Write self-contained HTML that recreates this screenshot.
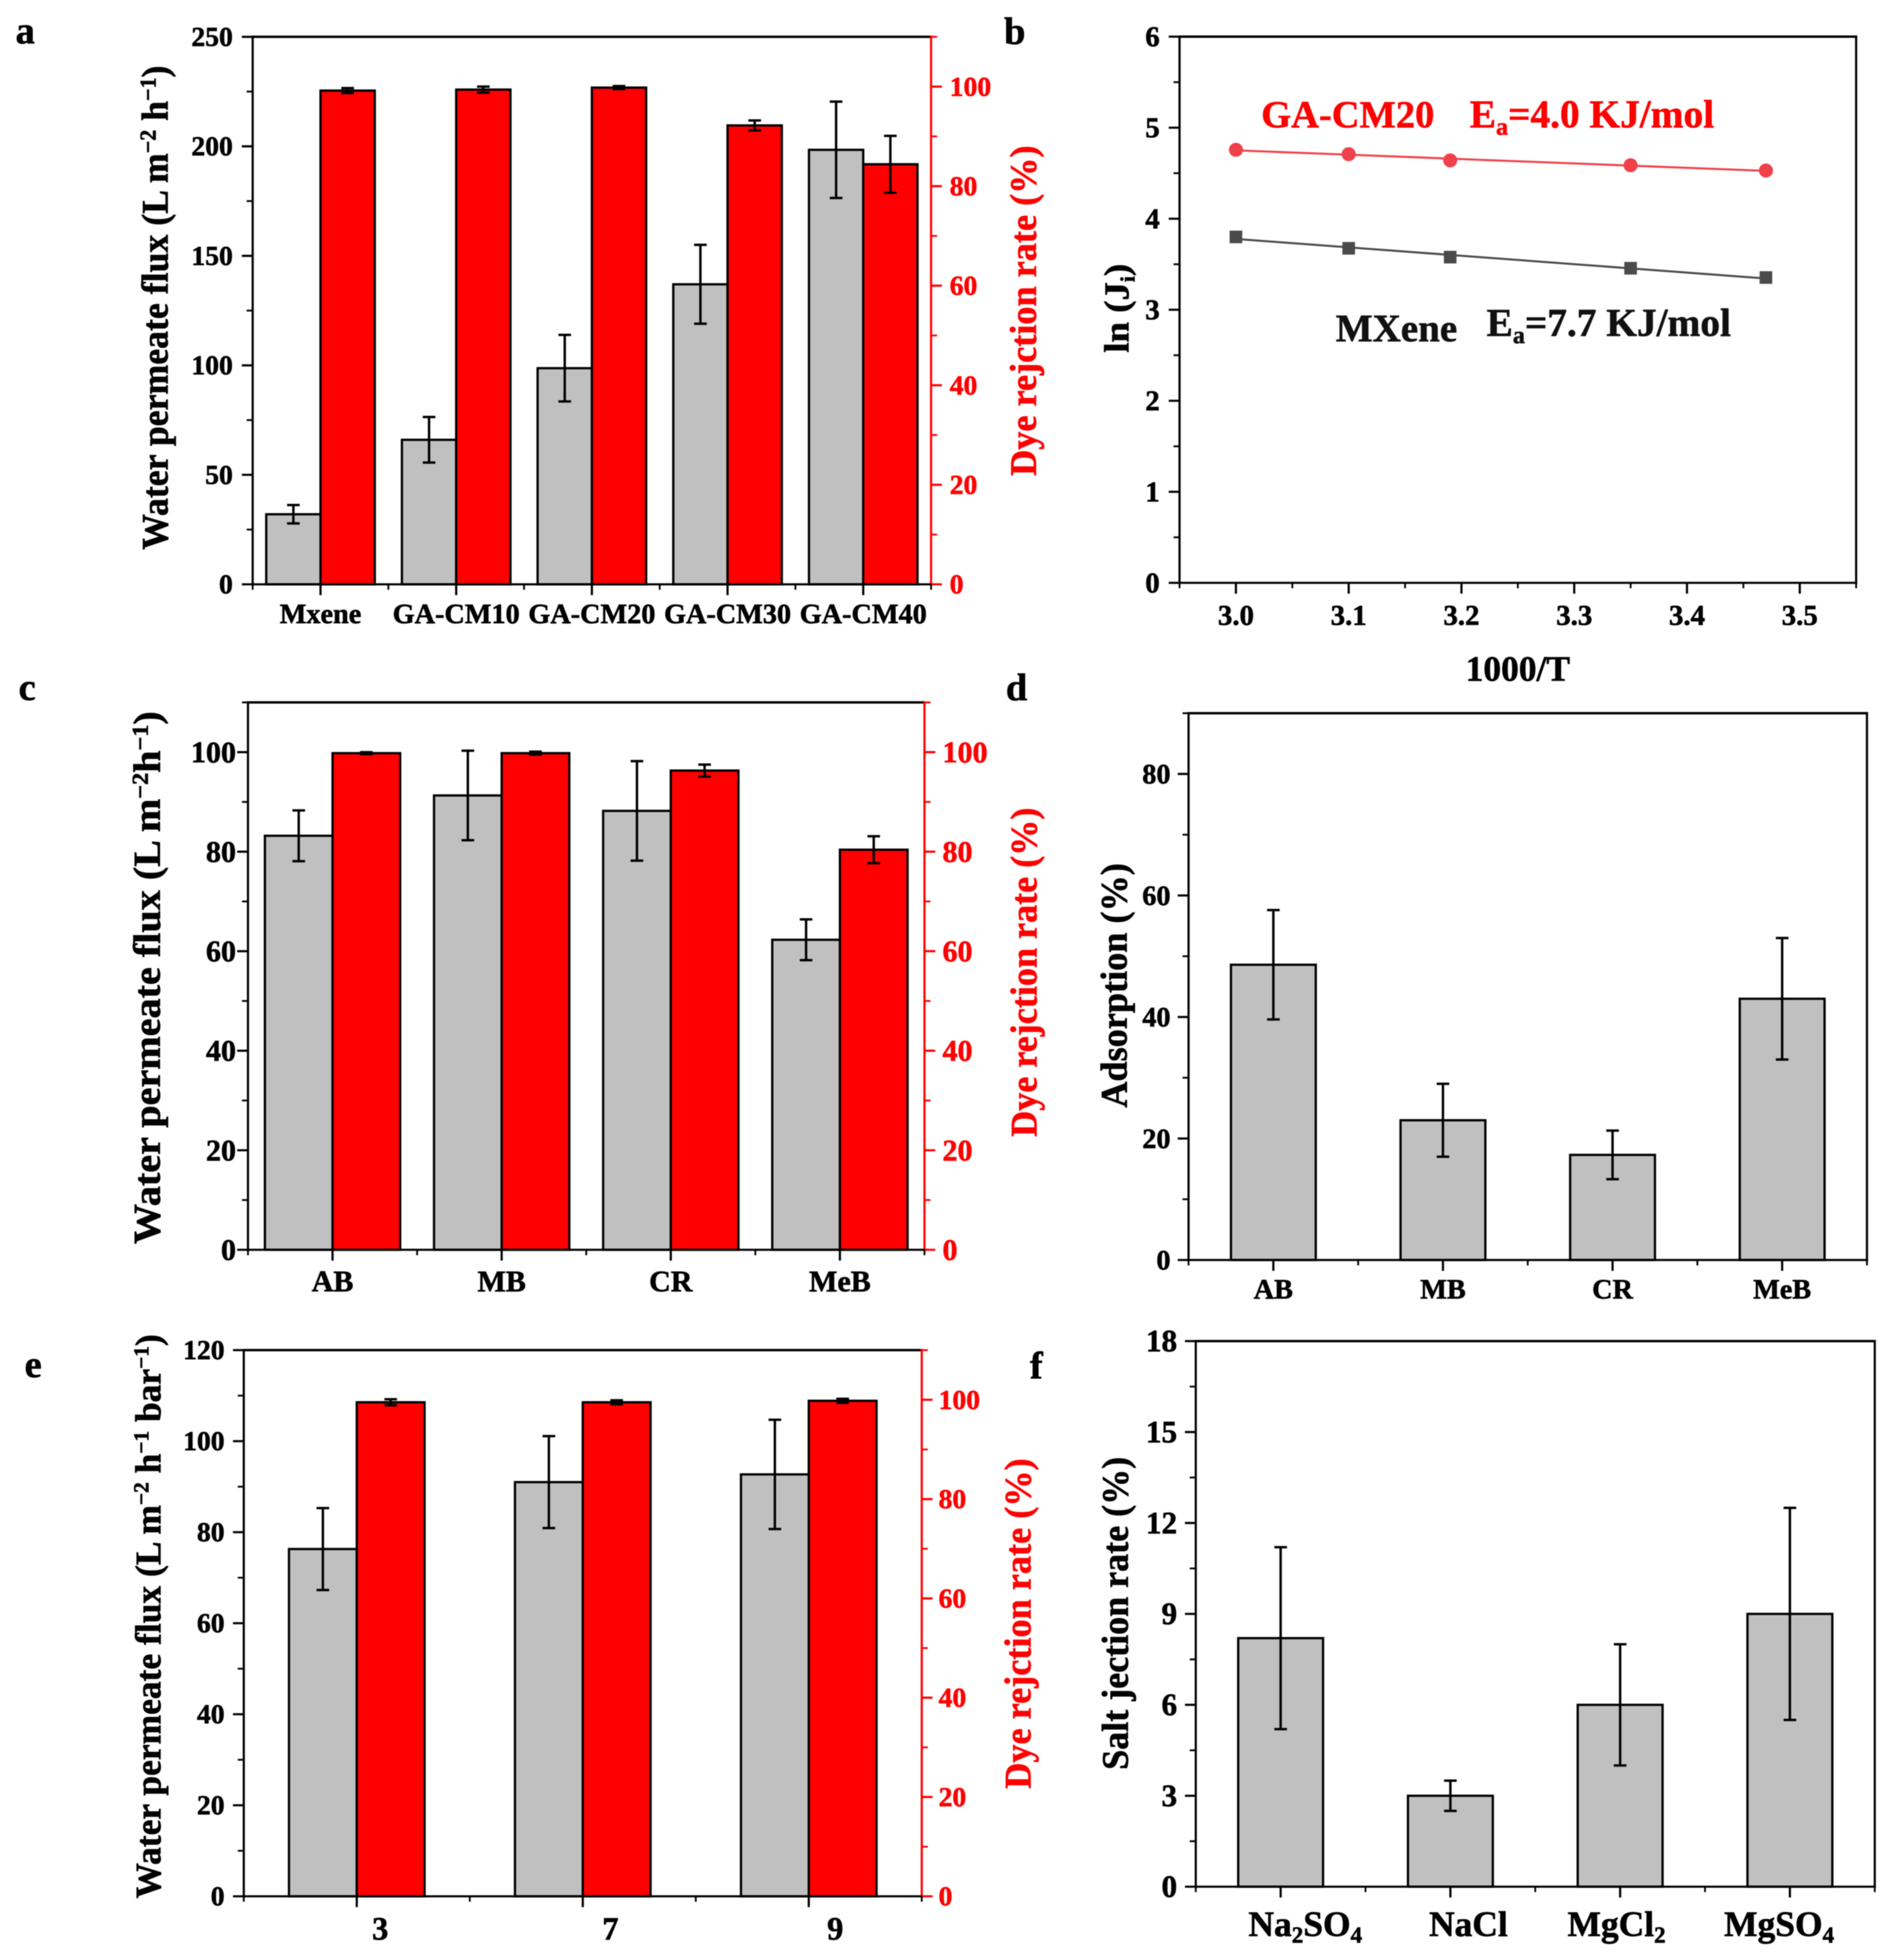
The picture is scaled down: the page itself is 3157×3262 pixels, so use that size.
<!DOCTYPE html>
<html lang="en">
<head>
<meta charset="utf-8">
<title>Membrane performance charts</title>
<style>
html,body{margin:0;padding:0;background:#fff;}
svg{display:block;filter:blur(0.8px);}
text{font-family:"Liberation Serif","DejaVu Serif",serif;font-weight:bold;}
</style>
</head>
<body>
<svg id="figure" xmlns="http://www.w3.org/2000/svg" width="3157" height="3262" viewBox="0 0 3157 3262">
<rect x="0" y="0" width="3157" height="3262" fill="#fff"/>

<g id="panel-a">
<text x="26" y="72" font-size="64">a</text>
<text class="fit" data-bx="279" data-cy="512" data-len="806" font-size="62">Water permeate flux (L m<tspan dy="-20" font-size="38">−2</tspan><tspan dy="20"> h</tspan><tspan dy="-20" font-size="38">−1</tspan><tspan dy="20">)</tspan></text>
<text class="fit" data-bx="1724" data-cy="517" data-len="550" font-size="62" fill="#ff0000">Dye rejction rate (%)</text>
</g>

<g id="panel-b">
<text x="1671" y="73" font-size="64">b</text>
<text class="fit" data-bx="1878" data-cy="513" data-len="148" font-size="58">ln (J<tspan dy="10" font-size="34">i</tspan><tspan dy="-10">)</tspan></text>
<text x="2526" y="1133" font-size="59" text-anchor="middle">1000/T</text>
<text x="2099" y="212" font-size="64" fill="#ff0000">GA-CM20</text>
<text x="2446" y="212" font-size="65.5" fill="#ff0000">E<tspan dy="12" font-size="40">a</tspan><tspan dy="-12">=4.0 KJ/mol</tspan></text>
<text x="2223" y="568" font-size="65" fill="#111">MXene</text>
<text x="2474" y="559" font-size="65.5" fill="#111">E<tspan dy="12" font-size="40">a</tspan><tspan dy="-12">=7.7 KJ/mol</tspan></text>
</g>

<g id="panel-c">
<text x="31" y="1165" font-size="64">c</text>
<text class="fit" data-bx="266" data-cy="1627" data-len="887" font-size="63">Water permeate flux (L m<tspan dy="-20" font-size="38">−2</tspan><tspan dy="20">h</tspan><tspan dy="-20" font-size="38">−1</tspan><tspan dy="20">)</tspan></text>
<text class="fit" data-bx="1725" data-cy="1618" data-len="548" font-size="62" fill="#ff0000">Dye rejction rate (%)</text>
</g>

<g id="panel-d">
<text x="1674" y="1165" font-size="64">d</text>
<text class="fit" data-bx="1875" data-cy="1640" data-len="407" font-size="62">Adsorption (%)</text>
</g>

<g id="panel-e">
<text x="41" y="2292" font-size="64">e</text>
<text class="fit" data-bx="267" data-cy="2690" data-len="939" font-size="60">Water permeate flux (L m<tspan dy="-20" font-size="36">−2</tspan><tspan dy="20"> h</tspan><tspan dy="-20" font-size="36">−1</tspan><tspan dy="20"> bar</tspan><tspan dy="-20" font-size="36">−1</tspan><tspan dy="20">)</tspan></text>
<text class="fit" data-bx="1715" data-cy="2702" data-len="550" font-size="62" fill="#ff0000">Dye rejction rate (%)</text>
</g>

<g id="panel-f">
<text x="1714" y="2294" font-size="64">f</text>
<text class="fit" data-bx="1877" data-cy="2685" data-len="521" font-size="62">Salt jection rate (%)</text>
</g>
</svg>

<script>
// ---------- Panel a data ----------
const aCategories = ['Mxene', 'GA-CM10', 'GA-CM20', 'GA-CM30', 'GA-CM40'];
const aFlux = [32, 66, 98.7, 137, 198.4];
const aFluxErr = [4.2, 10.4, 15.2, 18, 22];
const aRejection = [99.2, 99.4, 99.8, 92.2, 84.4];
const aRejectionErr = [0.5, 0.6, 0.3, 1.0, 5.7];
const aLeftTicks = [0, 50, 100, 150, 200, 250];
const aRightTicks = [0, 20, 40, 60, 80, 100];

// ---------- Panel b data ----------
const bTemps = [3.0, 3.1, 3.19, 3.35, 3.47];
const bGaCm20 = [4.757, 4.709, 4.641, 4.587, 4.529];
const bMxene = [3.80, 3.675, 3.578, 3.456, 3.354];
const bXTicks = [3.0, 3.1, 3.2, 3.3, 3.4, 3.5];
const bXTickLabels = ['3.0', '3.1', '3.2', '3.3', '3.4', '3.5'];
const bYTicks = [0, 1, 2, 3, 4, 5, 6];

// ---------- Panel c data ----------
const cCategories = ['AB', 'MB', 'CR', 'MeB'];
const cFlux = [83.2, 91.3, 88.2, 62.3];
const cFluxErr = [5.1, 9, 10, 4.1];
const cRejection = [99.8, 99.8, 96.3, 80.4];
const cRejectionErr = [0.2, 0.3, 1.2, 2.7];
const cLeftTicks = [0, 20, 40, 60, 80, 100];
const cRightTicks = [0, 20, 40, 60, 80, 100];

// ---------- Panel d data ----------
const dCategories = ['AB', 'MB', 'CR', 'MeB'];
const dAdsorption = [48.6, 23, 17.3, 43];
const dAdsorptionErr = [9, 6, 4, 10];
const dLeftTicks = [0, 20, 40, 60, 80];

// ---------- Panel e data ----------
const eCategories = ['3', '7', '9'];
const eFlux = [76.3, 91, 92.7];
const eFluxErr = [9, 10.1, 12];
const eRejection = [99.5, 99.5, 99.8];
const eRejectionErr = [0.6, 0.4, 0.4];
const eLeftTicks = [0, 20, 40, 60, 80, 100, 120];
const eRightTicks = [0, 20, 40, 60, 80, 100];

// ---------- Panel f data ----------
const fCategories = ['Na2SO4', 'NaCl', 'MgCl2', 'MgSO4'];
const fSalt = [8.2, 3, 6, 9];
const fSaltErr = [3, 0.5, 2, 3.5];
const fLeftTicks = [0, 3, 6, 9, 12, 15, 18];

// ---------- Helpers ----------
const NS = 'http://www.w3.org/2000/svg';
const AXIS_W = 3.6;
const BAR_W = 3.8;
const ERR_W = 4;
const CAP = 21;

function mk(tag, attrs, parent) {
  const el = document.createElementNS(NS, tag);
  for (const k in attrs) el.setAttribute(k, attrs[k]);
  parent.appendChild(el);
  return el;
}

function drawLine(g, x1, y1, x2, y2, color, w, name) {
  const el = mk('line', { x1: x1, y1: y1, x2: x2, y2: y2, stroke: color, 'stroke-width': w }, g);
  
  
  return el;
}

function drawLabel(g, x, y, str, size, anchor, color, name, subscriptDigits) {
  const el = mk('text', { x: x, y: y, 'font-size': size, 'text-anchor': anchor, fill: color }, g);
  
  
  if (subscriptDigits) {
    let lowered = false;
    str.split(/(\d)/).forEach(function (part) {
      if (!part) return;
      const isDigit = /\d/.test(part);
      const attrs = {};
      if (isDigit) { attrs.dy = 11; attrs['font-size'] = size * 0.65; lowered = true; }
      else if (lowered) { attrs.dy = -11; lowered = false; }
      const ts = mk('tspan', attrs, el);
      ts.textContent = part;
    });
  } else {
    el.textContent = str;
  }
  return el;
}

function midpoints(ticks, max) {
  const out = [];
  const step = ticks[1] - ticks[0];
  for (let i = 0; i < ticks.length - 1; i++) out.push(ticks[i] + step / 2);
  const extra = ticks[ticks.length - 1] + step / 2;
  if (extra <= max + 1e-9) out.push(extra);
  return out;
}

function linearScale(d0, d1, r0, r1) {
  return function (v) { return r0 + (v - d0) / (d1 - d0) * (r1 - r0); };
}

function drawYAxis(g, box, scale, ticks, max, side, color, font, pid) {
  const x0 = side === 'left' ? box.l : box.r;
  const dir = side === 'left' ? -1 : 1;
  ticks.forEach(function (t) {
    drawLine(g, x0, scale(t), x0 + dir * 18, scale(t), color, AXIS_W, pid + '-' + side + '-major-tick-' + t);
    const lx = side === 'left' ? box.l - box.gapL : box.r + box.gapR;
    drawLabel(g, lx, scale(t) + font * 0.33, String(t), font, side === 'left' ? 'end' : 'start', color, pid + '-' + side + '-tick-label-' + t);
  });
  midpoints(ticks, max).forEach(function (t) {
    drawLine(g, x0, scale(t), x0 + dir * 10, scale(t), color, 3, pid + '-' + side + '-minor-tick-' + t);
  });
}

function drawFrame(g, box, rightColor, pid) {
  drawLine(g, box.l, box.t, box.r + AXIS_W / 2, box.t, '#000', 4, pid + '-top-axis');
  drawLine(g, box.l, box.t - 2, box.l, box.b + 2, '#000', AXIS_W, pid + '-left-axis');
  drawLine(g, box.r, box.t - 2, box.r, box.b + 2, rightColor, AXIS_W, pid + '-right-axis');
  drawLine(g, box.l, box.b, box.r + AXIS_W / 2, box.b, '#000', AXIS_W, pid + '-bottom-axis');
}

function drawBar(g, x, w, yTop, yBase, fill, name) {
  const el = mk('rect', { x: x, y: yTop, width: w, height: Math.max(0, yBase - yTop), fill: fill, stroke: '#000', 'stroke-width': BAR_W }, g);
  
  
}

function drawError(g, cx, yHi, yLo, name) {
  drawLine(g, cx, yHi, cx, yLo, '#000', ERR_W, name + '-stem');
  drawLine(g, cx - CAP / 2, yHi, cx + CAP / 2, yHi, '#000', ERR_W, name + '-cap-top');
  drawLine(g, cx - CAP / 2, yLo, cx + CAP / 2, yLo, '#000', ERR_W, name + '-cap-bottom');
}

function slug(s) { return String(s).toLowerCase().replace(/[^a-z0-9]+/g, '-'); }

function drawBarPanel(cfg) {
  const g = document.getElementById(cfg.pid);
  const box = cfg.box;
  const n = cfg.cats.length;
  const band = (box.r - box.l) / n;
  const yL = linearScale(0, cfg.leftMax, box.b, box.t);
  const yR = cfg.second ? linearScale(0, cfg.rightMax, box.b, box.t) : null;
  const bw = band * cfg.barFrac;

  cfg.cats.forEach(function (cat, i) {
    const c = box.l + (i + 0.5) * band;
    const key = slug(cat);
    if (cfg.second) {
      drawBar(g, c - bw, bw, yL(cfg.first[i]), box.b, '#c0c0c0', cfg.pid + '-flux-bar-' + key);
      drawBar(g, c, bw, yR(cfg.second[i]), box.b, '#ff0000', cfg.pid + '-rejection-bar-' + key);
      drawError(g, c - bw / 2, yL(cfg.first[i] + cfg.firstErr[i]), yL(cfg.first[i] - cfg.firstErr[i]), cfg.pid + '-flux-error-' + key);
      drawError(g, c + bw / 2, yR(cfg.second[i] + cfg.secondErr[i]), yR(cfg.second[i] - cfg.secondErr[i]), cfg.pid + '-rejection-error-' + key);
    } else {
      drawBar(g, c - bw / 2, bw, yL(cfg.first[i]), box.b, '#c0c0c0', cfg.pid + '-bar-' + key);
      drawError(g, c, yL(cfg.first[i] + cfg.firstErr[i]), yL(cfg.first[i] - cfg.firstErr[i]), cfg.pid + '-error-' + key);
    }
  });

  drawFrame(g, box, cfg.second ? '#ff0000' : '#000', cfg.pid);
  drawYAxis(g, box, yL, cfg.leftTicks, cfg.leftMax, 'left', '#000', cfg.tickFont, cfg.pid);
  if (cfg.second) drawYAxis(g, box, yR, cfg.rightTicks, cfg.rightMax, 'right', '#ff0000', cfg.tickFont, cfg.pid);

  for (let i = 0; i <= n; i++) {
    drawLine(g, box.l + i * band, box.b, box.l + i * band, box.b + 9, '#000', 3, cfg.pid + '-x-minor-tick-' + i);
  }
  cfg.cats.forEach(function (cat, i) {
    const c = box.l + (i + 0.5) * band;
    drawLine(g, c, box.b, c, box.b + 18, '#000', AXIS_W, cfg.pid + '-x-major-tick-' + slug(cat));
    const dx = cfg.labelDx ? cfg.labelDx[i] : 0;
    drawLabel(g, c + dx, cfg.labelY, cat, cfg.labelFont, 'middle', '#000', cfg.pid + '-x-label-' + slug(cat), cfg.subscripts);
  });
}

function regression(xs, ys) {
  const n = xs.length;
  const mx = xs.reduce(function (a, b) { return a + b; }, 0) / n;
  const my = ys.reduce(function (a, b) { return a + b; }, 0) / n;
  let num = 0, den = 0;
  xs.forEach(function (x, i) { num += (x - mx) * (ys[i] - my); den += (x - mx) * (x - mx); });
  const m = num / den;
  return function (x) { return my + m * (x - mx); };
}

function drawLinePanel() {
  const g = document.getElementById('panel-b');
  const box = { l: 1963, r: 3089, t: 61, b: 970, gapL: 33 };
  const xS = linearScale(2.95, 3.55, box.l, box.r);
  const yS = linearScale(0, 6, box.b, box.t);
  const font = 48;

  const seriesList = [
    { key: 'mxene', ys: bMxene, color: '#4a4a4a', square: true },
    { key: 'ga-cm20', ys: bGaCm20, color: '#f0404a', square: false }
  ];
  seriesList.forEach(function (s) {
    const fit = regression(bTemps, s.ys);
    const first = bTemps[0];
    const last = bTemps[bTemps.length - 1];
    drawLine(g, xS(first), yS(fit(first)), xS(last), yS(fit(last)), s.color, 3.4, 'fit-line-' + s.key);
    bTemps.forEach(function (t, i) {
      let el;
      if (s.square) {
        el = mk('rect', { x: xS(t) - 10.5, y: yS(s.ys[i]) - 10.5, width: 21, height: 21, fill: s.color }, g);
      } else {
        el = mk('circle', { cx: xS(t), cy: yS(s.ys[i]), r: 11.7, fill: s.color }, g);
      }
      
      
    });
  });

  drawFrame(g, box, '#000', 'panel-b');
  drawYAxis(g, box, yS, bYTicks, 6, 'left', '#000', font, 'panel-b');
  const halfStep = (bXTicks[1] - bXTicks[0]) / 2;
  bXTicks.forEach(function (t, i) {
    drawLine(g, xS(t), box.b, xS(t), box.b + 18, '#000', AXIS_W, 'panel-b-x-major-tick-' + bXTickLabels[i]);
    drawLabel(g, xS(t), 1040, bXTickLabels[i], font, 'middle', '#000', 'panel-b-x-label-' + bXTickLabels[i]);
    drawLine(g, xS(t - halfStep), box.b, xS(t - halfStep), box.b + 9, '#000', 3, 'panel-b-x-minor-tick-' + i);
  });
  drawLine(g, box.r, box.b, box.r, box.b + 9, '#000', 3, 'panel-b-x-minor-tick-end');
}

// ---------- Panels ----------
drawBarPanel({
  pid: 'panel-a', box: { l: 420.5, r: 1549.5, t: 61.3, b: 972.5, gapL: 33, gapR: 31 },
  cats: aCategories, first: aFlux, firstErr: aFluxErr, second: aRejection, secondErr: aRejectionErr,
  leftMax: 250, rightMax: 110, leftTicks: aLeftTicks, rightTicks: aRightTicks,
  barFrac: 0.4, tickFont: 46, labelFont: 47, labelY: 1037
});
drawLinePanel();
drawBarPanel({
  pid: 'panel-c', box: { l: 412.7, r: 1538.5, t: 1169, b: 2080, gapL: 20, gapR: 30 },
  cats: cCategories, first: cFlux, firstErr: cFluxErr, second: cRejection, secondErr: cRejectionErr,
  leftMax: 110, rightMax: 110, leftTicks: cLeftTicks, rightTicks: cRightTicks,
  barFrac: 0.4, tickFont: 50, labelFont: 50, labelY: 2149
});
drawBarPanel({
  pid: 'panel-d', box: { l: 1978, r: 3107, t: 1187, b: 2097, gapL: 30 },
  cats: dCategories, first: dAdsorption, firstErr: dAdsorptionErr,
  leftMax: 90, leftTicks: dLeftTicks,
  barFrac: 0.5, tickFont: 47, labelFont: 47, labelY: 2161
});
drawBarPanel({
  pid: 'panel-e', box: { l: 405.7, r: 1534, t: 2247, b: 3156, gapL: 32, gapR: 28 },
  cats: eCategories, first: eFlux, firstErr: eFluxErr, second: eRejection, secondErr: eRejectionErr,
  leftMax: 120, rightMax: 110, leftTicks: eLeftTicks, rightTicks: eRightTicks,
  barFrac: 0.3, tickFont: 46, labelFont: 54, labelY: 3228, labelDx: [39, 46, 44]
});
drawBarPanel({
  pid: 'panel-f', box: { l: 1990, r: 3120, t: 2232, b: 3140, gapL: 31 },
  cats: fCategories, first: fSalt, firstErr: fSaltErr,
  leftMax: 18, leftTicks: fLeftTicks,
  barFrac: 0.5, tickFont: 52, labelFont: 59, labelY: 3222, labelDx: [41, 30, -6, -18], subscripts: true
});

// ---------- Fit rotated axis titles to measured lengths ----------
document.querySelectorAll('text.fit').forEach(function (el) {
  const w = el.getComputedTextLength();
  const bx = +el.getAttribute('data-bx');
  const cy = +el.getAttribute('data-cy');
  const len = +el.getAttribute('data-len');
  el.setAttribute('transform', 'translate(' + bx + ' ' + cy + ') rotate(-90) scale(' + (len / w) + ' 1) translate(' + (-w / 2) + ' 0)');
});

// ---------- Slightly heavier glyphs, as in the scanned reference ----------
document.querySelectorAll('text').forEach(function (el) {
  el.setAttribute('stroke', el.getAttribute('fill') || '#000');
  el.setAttribute('stroke-width', '0.9');
});
</script>
</body>
</html>
